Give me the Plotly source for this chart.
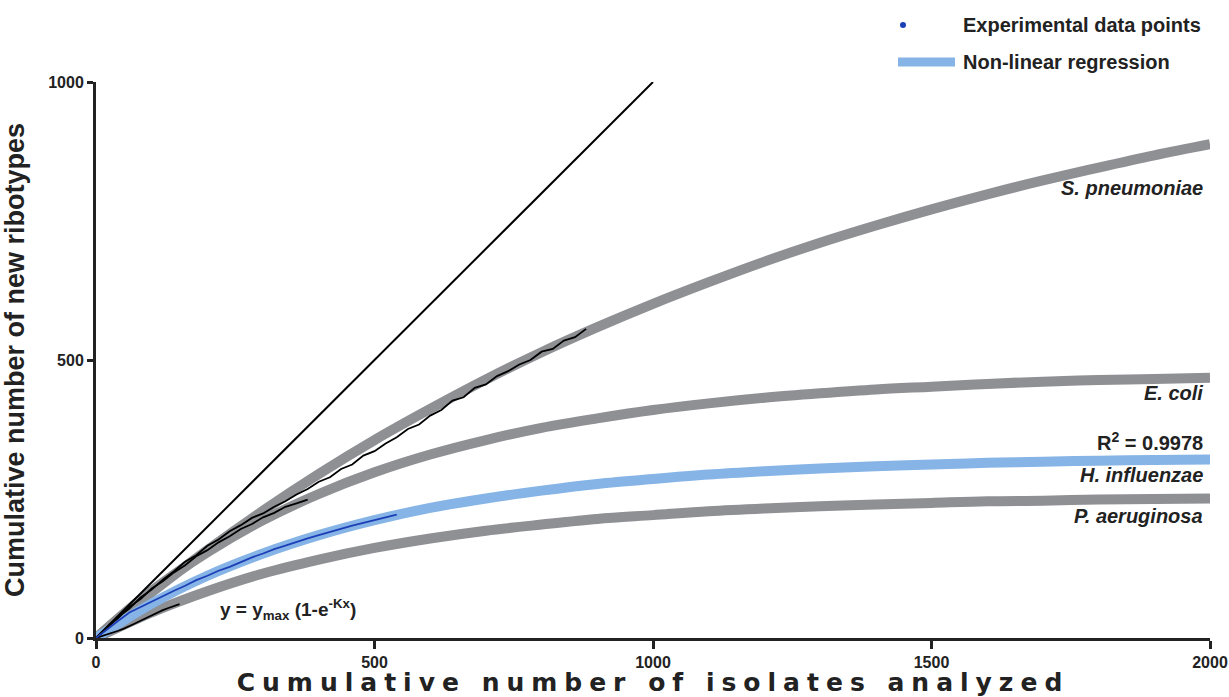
import plotly.graph_objects as go

# ---- data ----
fit_x = [0, 100, 200, 300, 400, 500, 600, 700, 800, 900, 1000, 1100, 1200, 1300,
         1400, 1500, 1600, 1700, 1800, 1900, 2000]
spn_fit = [0, 82, 158, 229, 295, 356, 412, 465, 514, 559, 601, 640, 677, 711,
           742, 771, 798, 823, 846, 868, 888]
eco_fit = [0, 85, 154, 212, 259, 298, 330, 356, 378, 395, 410, 422, 432, 440,
           447, 452, 457, 461, 464, 466, 468]
hin_fit = [0, 62, 112, 152, 185, 212, 234, 251, 265, 277, 286, 294, 300, 305,
           309, 312, 315, 317, 319, 320, 321]
pae_fit = [0, 46, 84, 116, 141, 162, 179, 193, 204, 214, 221, 228, 233, 237,
           240, 243, 246, 247, 249, 250, 251]

spn_x = [0, 20, 40, 60, 80, 100, 120, 140, 160, 180, 200, 220, 240, 260, 280, 300,
         320, 340, 360, 380, 400, 420, 440, 460, 480, 500, 520, 540, 560, 580, 600,
         620, 640, 660, 680, 700, 720, 740, 760, 780, 800, 820, 840, 860, 880]
spn_y = [0, 18, 38, 53, 73, 87, 105, 120, 137, 149, 166, 177, 192, 203, 216, 224,
         236, 246, 258, 268, 281, 289, 304, 312, 328, 336, 350, 361, 376, 384, 400,
         410, 427, 433, 450, 456, 471, 480, 492, 500, 515, 520, 535, 541, 556]

eco_x = [0, 20, 40, 60, 80, 100, 120, 140, 160, 180, 200, 220, 240, 260, 280, 300,
         320, 340, 360, 380]
eco_y = [0, 20, 36, 56, 70, 89, 102, 118, 131, 147, 158, 172, 183, 196, 205, 217,
         225, 236, 242, 249]

hin_x = [0, 20, 40, 60, 80, 100, 120, 140, 160, 180, 200, 220, 240, 260, 280, 300,
         320, 340, 360, 380, 400, 420, 440, 460, 480, 500, 520, 540]
hin_y = [0, 16, 31, 46, 56, 66, 76, 85, 94, 104, 112, 121, 128, 137, 145, 152,
         160, 166, 173, 179, 185, 191, 196, 202, 207, 212, 217, 222]

pae_x = [0, 10, 20, 30, 40, 50, 60, 70, 80, 90, 100, 110, 120, 130, 140, 150]
pae_y = [0, 3, 6, 10, 13, 17, 21, 26, 31, 36, 41, 46, 50, 54, 58, 61]

ident_x = [0, 1000]
ident_y = [0, 1000]

x_ticks = [0, 500, 1000, 1500, 2000]
y_ticks = [0, 500, 1000]

GRAY = "#8e9094"
LBLUE = "#86b4e6"
DBLUE = "#1c3fb8"
FONT = "Liberation Sans, Arial, sans-serif"
WIDE = "DejaVu Sans, Liberation Sans, sans-serif"
TXT = "#222222"

W, H = 1229, 697
ML, MR, MT, MB = 96, 19, 82, 59


def px(xw):
    return (xw - ML) / (W - ML - MR)


def py(yw):
    return (H - MB - yw) / (H - MT - MB)


fig = go.Figure()

for ys, col in [(spn_fit, GRAY), (eco_fit, GRAY), (pae_fit, GRAY), (hin_fit, LBLUE)]:
    fig.add_trace(go.Scatter(x=fit_x, y=ys, mode="lines", line=dict(color=col, width=10, shape="spline"),
                             showlegend=False, hoverinfo="skip"))

fig.add_trace(go.Scatter(x=ident_x, y=ident_y, mode="lines", line=dict(color="black", width=2),
                         showlegend=False))

for xs, ys, col in [(spn_x, spn_y, "black"), (eco_x, eco_y, "black"),
                    (pae_x, pae_y, "black"), (hin_x, hin_y, DBLUE)]:
    fig.add_trace(go.Scatter(x=xs, y=ys, mode="lines", line=dict(color=col, width=1.8),
                             showlegend=False))

# species labels
labels = [("<i>S. pneumoniae</i>", 809), ("<i>E. coli</i>", 441), ("R<sup>2</sup> = 0.9978", 353),
          ("<i>H. influenzae</i>", 293), ("<i>P. aeruginosa</i>", 219)]
for txt, yv in labels:
    fig.add_annotation(x=px(1205), xref="paper", y=yv, yref="y", text="<b>" + txt + "</b>",
                       showarrow=False, xanchor="right", yanchor="middle",
                       font=dict(family=FONT, size=20, color=TXT))

fig.add_annotation(x=345, y=52, xref="x", yref="y",
                   text="<b>y = y<sub>max</sub> (1-e<sup>-Kx</sup>)</b>", showarrow=False,
                   font=dict(family=FONT, size=19, color=TXT))

# legend (drawn manually)
fig.add_shape(type="circle", xref="paper", yref="paper",
              x0=px(900), x1=px(906), y0=py(28), y1=py(22),
              fillcolor=DBLUE, line=dict(width=0))
fig.add_shape(type="line", xref="paper", yref="paper",
              x0=px(898), x1=px(955), y0=py(62), y1=py(62),
              line=dict(color=LBLUE, width=9))
fig.add_annotation(x=px(961), y=py(25), xref="paper", yref="paper",
                   text="<b>Experimental data points</b>", showarrow=False, xanchor="left",
                   yanchor="middle", font=dict(family=FONT, size=20, color=TXT))
fig.add_annotation(x=px(961), y=py(62), xref="paper", yref="paper",
                   text="<b>Non-linear regression</b>", showarrow=False, xanchor="left",
                   yanchor="middle", font=dict(family=FONT, size=20, color=TXT))

fig.update_layout(
    width=W, height=H,
    margin=dict(l=ML, r=MR, t=MT, b=MB, autoexpand=False),
    plot_bgcolor="white", paper_bgcolor="white",
    font=dict(family=FONT, color=TXT),
    xaxis=dict(range=[0, 2000], tickvals=x_ticks, ticktext=[str(v) for v in x_ticks],
               showgrid=False, zeroline=False, showline=True, linecolor=TXT, linewidth=3,
               ticks="outside", ticklen=8, tickwidth=3, tickcolor=TXT, automargin=False,
               ticklabeloverflow="allow",
               tickfont=dict(family=FONT, size=16, weight="bold", color=TXT),
               title=dict(text="<span style=\"letter-spacing:7px\"><b>Cumulative number of isolates analyzed</b></span>",
                          font=dict(family=WIDE, size=25, color=TXT), standoff=31)),
    yaxis=dict(range=[0, 1000], tickvals=y_ticks, ticktext=[str(v) for v in y_ticks],
               showgrid=False, zeroline=False, showline=True, linecolor=TXT, linewidth=3,
               ticks="outside", ticklen=6, tickwidth=3, tickcolor=TXT, automargin=False,
               tickfont=dict(family=FONT, size=16, weight="bold", color=TXT),
               title=dict(text="<b>Cumulative number of new ribotypes</b>",
                          font=dict(family=FONT, size=27, color=TXT), standoff=19)),
)

fig.write_html("out.html", config={"displayModeBar": False},
               post_script="document.body.style.margin='0';document.body.style.overflow='hidden';")
